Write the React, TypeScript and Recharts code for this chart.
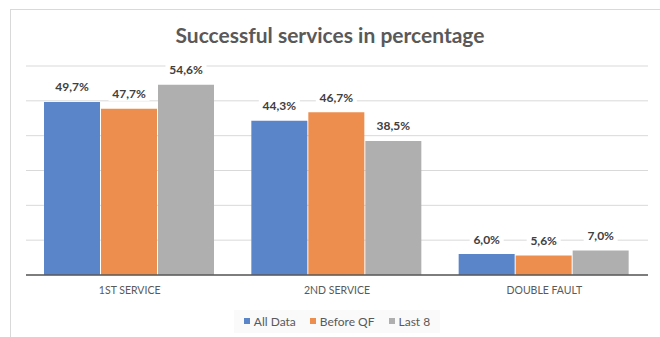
import { BarChart, Bar, XAxis, YAxis, CartesianGrid, Legend, LabelList } from 'recharts';

const categories = ['1ST SERVICE', '2ND SERVICE', 'DOUBLE FAULT'];
const allData = [49.7, 44.3, 6.0];
const beforeQF = [47.7, 46.7, 5.6];
const last8 = [54.6, 38.5, 7.0];
const yTicks = [0, 10, 20, 30, 40, 50, 60];

const seriesList = [
  { key: 'allData', name: 'All Data', color: '#5B85C9' },
  { key: 'beforeQF', name: 'Before QF', color: '#EE8E4E' },
  { key: 'last8', name: 'Last 8', color: '#AFAFAF' },
];

const data = categories.map((c, i) => ({
  name: c,
  allData: allData[i],
  beforeQF: beforeQF[i],
  last8: last8[i],
}));

const FONT = 'Lato, "Open Sans", sans-serif';

const fmt = (v: number) => v.toFixed(1).replace('.', ',') + '%';

function ValueLabel(props: any) {
  const { x, y, width, value } = props;
  const text = fmt(Number(value));
  const cx = x + width / 2;
  const cy = y - 15;
  const w = text.length * 7 + 6;
  return (
    <g>
      <rect x={cx - w / 2} y={cy - 7} width={w} height={14} fill="#fff" />
      <text
        x={cx}
        y={cy}
        textAnchor="middle"
        dominantBaseline="central"
        fontFamily={FONT}
        fontWeight={700}
        fontSize={12}
        fill="#404040"
      >
        {text}
      </text>
    </g>
  );
}

function LegendBox() {
  return (
    <div
      style={{
        display: 'flex',
        justifyContent: 'center',
        height: 20,
        alignItems: 'center',
        fontFamily: FONT,
        fontSize: 12,
        color: '#595959',
      }}
    >
      <div style={{ display: 'flex', gap: 14, background: '#fafafa', padding: '4px 10px' }}>
        {seriesList.map(s => (
          <span key={s.key} style={{ display: 'flex', alignItems: 'center' }}>
            <span style={{ width: 6, height: 6, background: s.color, marginRight: 4 }} />
            {s.name}
          </span>
        ))}
      </div>
    </div>
  );
}

export default function App() {
  return (
    <div style={{ position: 'absolute', left: 0, top: 0, width: 660, height: 337, background: '#fff', overflow: 'hidden' }}>
      <div
        style={{
          position: 'absolute',
          left: 10,
          top: 9,
          width: 660,
          height: 340,
          borderLeft: '1px solid #d9d9d9',
          borderTop: '1px solid #d9d9d9',
        }}
      />
      <div
        style={{
          position: 'absolute',
          top: 22,
          width: 660,
          textAlign: 'center',
          fontFamily: FONT,
          fontWeight: 700,
          fontSize: 21,
          lineHeight: '25px',
          color: '#595959',
        }}
      >
        Successful services in percentage
      </div>
      <div style={{ position: 'absolute', left: 0, top: 0 }}>
        <BarChart
          width={660}
          height={337}
          data={data}
          margin={{ top: 66, right: 12, left: 26, bottom: 12 }}
          barCategoryGap={18}
          barGap={1}
        >
          <CartesianGrid vertical={false} stroke="#d9d9d9" />
          <YAxis
            domain={[0, 60]}
            ticks={yTicks}
            width={0}
            tick={{ fill: 'transparent', fontSize: 1 }}
            axisLine={false}
            tickLine={false}
          />
          <XAxis
            dataKey="name"
            height={30}
            axisLine={{ stroke: '#595959', strokeWidth: 1.5 }}
            tickLine={false}
            tick={{ fontFamily: FONT, fontSize: 10.5, fill: '#595959' }}
            tickMargin={6}
          />
          <Legend verticalAlign="bottom" align="center" content={() => <LegendBox />} wrapperStyle={{ bottom: 6 }} />
          {seriesList.map(s => (
            <Bar key={s.key} dataKey={s.key} name={s.name} fill={s.color} isAnimationActive={false}>
              <LabelList dataKey={s.key} content={<ValueLabel />} />
            </Bar>
          ))}
        </BarChart>
      </div>
    </div>
  );
}
